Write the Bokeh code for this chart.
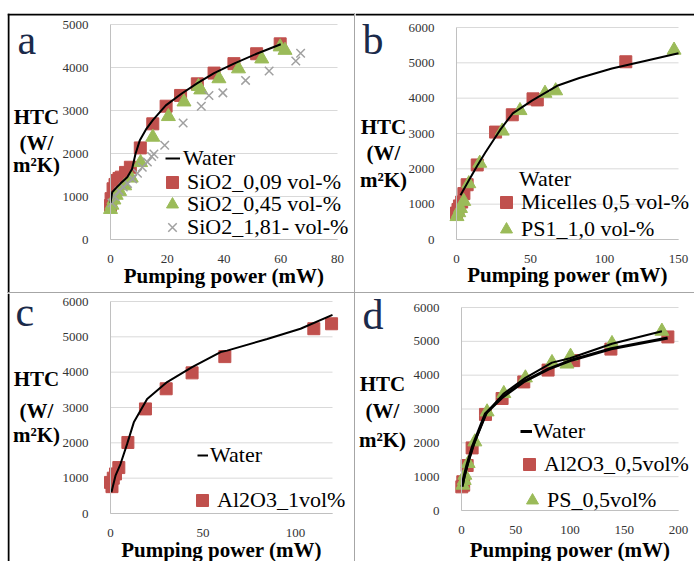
from bokeh.plotting import figure
from bokeh.models import Range1d, FixedTicker, Label, Legend, LegendItem, Spacer, LinearAxis, Span
from bokeh.layouts import row, column
from bokeh.core.properties import value
from bokeh.embed import file_html
from bokeh.resources import INLINE

SERIF = "Liberation Serif"
RED = "#C0504D"
GREEN = "#9BBB59"
GRAYX = "#A0A0A0"
LETTER = "#1b2a4a"
GRID = "#D9D9D9"

# ---------------- data ----------------
# panel a
a_water_x = [0, 0.6, 2, 3.5, 5.9, 7.6, 8.8, 10.3, 12.5, 15, 19.5, 25, 30.5, 36.5, 43.5, 51.5, 60]
a_water_y = [850, 1100, 1200, 1300, 1450, 1640, 1990, 2300, 2560, 2780, 3120, 3390, 3630, 3870, 4090, 4320, 4540]
a_sio2_009_x = [0, 0.2, 0.9, 1.6, 2.3, 3.0, 3.8, 5.3, 7.0, 10.5, 14.9, 19.6, 24.7, 30.6, 36.5, 43.5, 51.5, 59.8]
a_sio2_009_y = [790, 950, 1180, 1280, 1370, 1420, 1450, 1560, 1680, 2130, 2690, 3100, 3350, 3620, 3870, 4090, 4320, 4550]
a_sio2_045_x = [0, 0.5, 1.2, 2.0, 3.2, 5.0, 7.3, 10.6, 14.9, 20.4, 25.9, 31.0, 31.8, 38.2, 45.1, 53.3, 59.8, 61.5]
a_sio2_045_y = [700, 800, 920, 1030, 1120, 1250, 1430, 1790, 2380, 2860, 3200, 3560, 3480, 3740, 3970, 4200, 4480, 4400]
a_sio2_181_x = [0.5, 1.5, 3.0, 4.5, 6.0, 7.8, 9.5, 11.2, 13.0, 14.5, 15.3, 19.1, 25.6, 32.0, 34.7, 39.6, 47.6, 55.9, 65.3, 67.0]
a_sio2_181_y = [850, 1000, 1130, 1220, 1300, 1410, 1540, 1680, 1800, 1930, 1990, 2190, 2710, 3100, 3350, 3410, 3700, 3920, 4150, 4330]

# panel b
b_water_x = [2.7, 8.3, 14, 19.6, 24.8, 30, 38, 51, 68, 83, 105, 128, 150]
b_water_y = [1250, 1670, 2090, 2470, 2800, 3130, 3570, 3930, 4350, 4570, 4840, 5060, 5270]
b_micelles_x = [0, 1.0, 2.0, 3.5, 5.0, 7.2, 14.0, 26.4, 37.7, 51.7, 54.6, 114.4]
b_micelles_y = [750, 850, 950, 1060, 1300, 1550, 2110, 3040, 3530, 3980, 3950, 5030]
b_ps1_x = [0.3, 1.5, 2.7, 4.9, 8.3, 15.7, 30.9, 42.9, 59.8, 67.0, 147.0]
b_ps1_y = [650, 760, 880, 1080, 1580, 2160, 3070, 3650, 4140, 4210, 5360]

# panel c
c_water_x = [0.5, 2.7, 5.4, 9, 12.6, 19.8, 30.6, 44.1, 59.5, 63, 84.7, 102.7, 120]
c_water_y = [600, 1070, 1400, 1970, 2580, 3240, 3720, 4140, 4570, 4610, 4940, 5230, 5620]
c_al2o3_x = [0, 0.8, 1.5, 2.7, 4.5, 9.4, 18.9, 30.1, 44.1, 61.8, 109.9, 119.5]
c_al2o3_y = [880, 760, 1000, 1120, 1300, 2010, 2960, 3530, 3980, 4440, 5230, 5370]

# panel d
d_water_x = [0.5, 2, 5, 10, 22, 37, 57, 80, 102, 138, 190]
d_water_y = [700, 950, 1340, 1880, 2860, 3330, 3800, 4180, 4450, 4780, 5100]
d_water2_x = [1.2, 3.1, 6.1, 12.3, 23.6, 39, 58.9, 83.4, 100, 138.7, 184.7]
d_water2_y = [750, 1040, 1390, 2030, 2910, 3460, 3920, 4370, 4500, 4930, 5300]
d_al2o3_x = [0.3, 1.2, 2.0, 5.2, 9.8, 22.1, 37.4, 57.4, 79.8, 103.4, 137.7, 190.2]
d_al2o3_y = [700, 850, 750, 1330, 1850, 2840, 3310, 3800, 4150, 4430, 4770, 5130]
d_ps_x = [1.2, 2.5, 3.1, 6.1, 12.3, 23.6, 39, 58.9, 83.4, 97.2, 100.5, 138.7, 184.7]
d_ps_y = [750, 890, 1044, 1390, 2030, 2916, 3458, 3921, 4374, 4330, 4560, 4936, 5300]

a_xticks = [0, 20, 40, 60, 80]
b_xticks = [0, 50, 100, 150]
c_xticks = [0, 50, 100]
d_xticks = [0, 50, 100, 150, 200]
a_yticks = [0, 1000, 2000, 3000, 4000, 5000]
bcd_yticks = [0, 1000, 2000, 3000, 4000, 5000, 6000]

# --------------- geometry (page pixels) ---------------
GA = dict(fx=7, fy=13, fw=347, fh=279, L=110, T=24, W=227, H=215, xr=(0, 80), yr=(0, 5000))
GB = dict(fx=355, fy=13, fw=339, fh=279, L=456, T=27, W=222, H=212, xr=(0, 150), yr=(0, 6000))
GC = dict(fx=7, fy=293, fw=347, fh=268, L=110, T=301, W=222, H=212, xr=(0, 120), yr=(0, 6000))
GD = dict(fx=355, fy=293, fw=339, fh=268, L=461, T=307, W=217, H=203, xr=(0, 200), yr=(0, 6000))


def to_data(g, px, py):
    x0, x1 = g["xr"]
    y0, y1 = g["yr"]
    dx = x0 + (px - g["L"]) / g["W"] * (x1 - x0)
    dy = y0 + (g["T"] + g["H"] - py) / g["H"] * (y1 - y0)
    return dx, dy


def make_panel(g, xticks, yticks):
    xs, ye = to_data(g, g["fx"], g["fy"])
    xe, ys = to_data(g, g["fx"] + g["fw"], g["fy"] + g["fh"])
    p = figure(width=g["fw"], height=g["fh"], x_range=Range1d(xs, xe), y_range=Range1d(ys, ye),
               output_backend="svg", toolbar_location=None,
               x_axis_location=None, y_axis_location=None,
               min_border_left=0, min_border_right=0, min_border_top=0, min_border_bottom=0)
    p.xgrid.visible = False
    p.ygrid.visible = False
    p.outline_line_color = None
    p.background_fill_color = "white"
    p.border_fill_color = "white"
    # horizontal grid lines across the plot area only
    n = len(yticks)
    p.segment(x0=[g["xr"][0]] * n, y0=yticks, x1=[g["xr"][1]] * n, y1=yticks,
              line_color=GRID, line_width=1)
    xa = LinearAxis(fixed_location=g["yr"][0], bounds=g["xr"], ticker=FixedTicker(ticks=xticks))
    ya = LinearAxis(fixed_location=g["xr"][0], bounds=g["yr"], ticker=FixedTicker(ticks=yticks))
    for ax in (xa, ya):
        ax.axis_line_color = "#C0C0C0"
        ax.major_tick_line_color = None
        ax.minor_tick_line_color = None
        ax.major_tick_out = 0
        ax.major_tick_in = 0
        ax.major_label_text_font = SERIF
        ax.major_label_text_font_size = "13px"
        ax.major_label_text_color = "#333333"
    ya.major_label_standoff = 22
    xa.major_label_standoff = 15
    p.add_layout(xa, "below")
    p.add_layout(ya, "left")
    return p


def add_frame_lines(p, g, left=False, top=False):
    # black frame of the figure sheet (page x = 8, page y = 14)
    fx, fy = to_data(g, 8, 14)
    if left:
        p.add_layout(Span(location=fx, dimension="height", line_color="black", line_width=2))
    if top:
        p.add_layout(Span(location=fy, dimension="width", line_color="black", line_width=2))


def add_text(p, g, px, py, text, size, bold=False, color="black", align="center"):
    # empirical correction: rendered alphabetic baseline sits ~0.33em lower
    py = py - 0.33 * size
    dx, dy = to_data(g, px, py)
    p.add_layout(Label(x=dx, y=dy, text=text, text_font=SERIF, text_font_size="%dpx" % size,
                       text_font_style="bold" if bold else "normal", text_color=color,
                       text_align=align, text_baseline="alphabetic"))


def add_htc(p, g, cx, baselines):
    for t, b in zip(["HTC", "(W/", "m\u00b2K)"], baselines):
        add_text(p, g, cx, b, t, 21, bold=True)


def add_xlabel(p, g, baseline):
    add_text(p, g, g["L"] + g["W"] / 2, baseline, "Pumping power (mW)", 21, bold=True)


def add_leg(p, g, label, rends, x0, cy, gw, gh, standoff):
    loc = (x0 - g["fx"], (g["fy"] + g["fh"]) - cy - gh / 2)
    lg = Legend(items=[LegendItem(label=value(label), renderers=rends)], location=loc,
                glyph_width=gw, glyph_height=gh, label_standoff=standoff,
                padding=0, margin=0, spacing=0, border_line_color=None,
                background_fill_alpha=0, label_text_font=SERIF, label_text_font_size="22px",
                label_text_color="black", label_height=gh)
    p.add_layout(lg)


def add_marker_leg(p, g, label, rends, cx, cy):
    box = 30
    add_leg(p, g, label, rends, cx - 2 - box / 2, cy, box, box, 0)


# ---------------- panel a ----------------
pa = make_panel(GA, a_xticks, a_yticks)
ra_1 = pa.scatter(a_sio2_009_x, a_sio2_009_y, marker="square", size=12, fill_color=RED, line_color=RED)
ra_2 = pa.scatter(a_sio2_045_x, a_sio2_045_y, marker="triangle", size=14, fill_color=GREEN, line_color=GREEN)
ra_3 = pa.scatter(a_sio2_181_x, a_sio2_181_y, marker="x", size=12, line_color=GRAYX, line_width=1.5)
ra_w = pa.line(a_water_x, a_water_y, line_color="black", line_width=2)
add_leg(pa, GA, "Water", [ra_w], 165, 158, 15, 30, 3)
add_marker_leg(pa, GA, "SiO2_0,09 vol-%", [ra_1], 174, 182)
add_marker_leg(pa, GA, "SiO2_0,45 vol-%", [ra_2], 174, 204)
add_marker_leg(pa, GA, "SiO2_1,81- vol-%", [ra_3], 174, 227)
add_htc(pa, GA, 36, [123, 149, 171])
add_text(pa, GA, 17, 53, "a", 42, color=LETTER, align="left")
add_xlabel(pa, GA, 282)
add_frame_lines(pa, GA, left=True, top=True)

# ---------------- panel b ----------------
pb = make_panel(GB, b_xticks, bcd_yticks)
rb_1 = pb.scatter(b_micelles_x, b_micelles_y, marker="square", size=12, fill_color=RED, line_color=RED)
rb_2 = pb.scatter(b_ps1_x, b_ps1_y, marker="triangle", size=14, fill_color=GREEN, line_color=GREEN)
rb_w = pb.line(b_water_x, b_water_y, line_color="black", line_width=2)
add_leg(pb, GB, "Water", [rb_w], 519, 179, 0, 30, 0)
add_marker_leg(pb, GB, "Micelles 0,5 vol-%", [rb_1], 508, 202)
add_marker_leg(pb, GB, "PS1_1,0 vol-%", [rb_2], 508, 229)
add_htc(pb, GB, 383, [133, 159, 186])
add_text(pb, GB, 362, 53, "b", 42, color=LETTER, align="left")
add_xlabel(pb, GB, 281)
add_frame_lines(pb, GB, top=True)

# ---------------- panel c ----------------
pc = make_panel(GC, c_xticks, bcd_yticks)
rc_1 = pc.scatter(c_al2o3_x, c_al2o3_y, marker="square", size=12, fill_color=RED, line_color=RED)
rc_w = pc.line(c_water_x, c_water_y, line_color="black", line_width=2)
add_leg(pc, GC, "Water", [rc_w], 197, 455, 11, 30, 2)
add_marker_leg(pc, GC, "Al2O3_1vol%", [rc_1], 204, 500)
add_htc(pc, GC, 36, [385, 417, 441])
add_text(pc, GC, 15, 325, "c", 42, color=LETTER, align="left")
add_xlabel(pc, GC, 556)
add_frame_lines(pc, GC, left=True)

# ---------------- panel d ----------------
pd_ = make_panel(GD, d_xticks, bcd_yticks)
rd_1 = pd_.scatter(d_al2o3_x, d_al2o3_y, marker="square", size=12, fill_color=RED, line_color=RED)
rd_2 = pd_.scatter(d_ps_x, d_ps_y, marker="triangle", size=14, fill_color=GREEN, line_color=GREEN)
rd_w2 = pd_.line(d_water2_x, d_water2_y, line_color="black", line_width=2)
rd_w = pd_.line(d_water_x, d_water_y, line_color="black", line_width=3)
add_leg(pd_, GD, "Water", [rd_w], 520, 431, 12, 30, 1)
add_marker_leg(pd_, GD, "Al2O3_0,5vol%", [rd_1], 531, 464)
add_marker_leg(pd_, GD, "PS_0,5vol%", [rd_2], 534, 500)
add_htc(pd_, GD, 382, [390, 417, 446])
add_text(pd_, GD, 362, 328, "d", 42, color=LETTER, align="left")
add_xlabel(pd_, GD, 556)

# ---------------- layout ----------------
top_gap = Spacer(width=694, height=13)
left_gap = Spacer(width=7, height=548)
vdiv1 = Spacer(width=1, height=279, styles={"background-color": "#A6A6A6"})
vdiv2 = Spacer(width=1, height=268, styles={"background-color": "#A6A6A6"})
hdiv = Spacer(width=687, height=1, styles={"background-color": "#A6A6A6"})

grid = column(row(pa, vdiv1, pb), hdiv, row(pc, vdiv2, pd_))
layout = column(top_gap, row(left_gap, grid))

open("out.html", "w").write(file_html(layout, INLINE))
